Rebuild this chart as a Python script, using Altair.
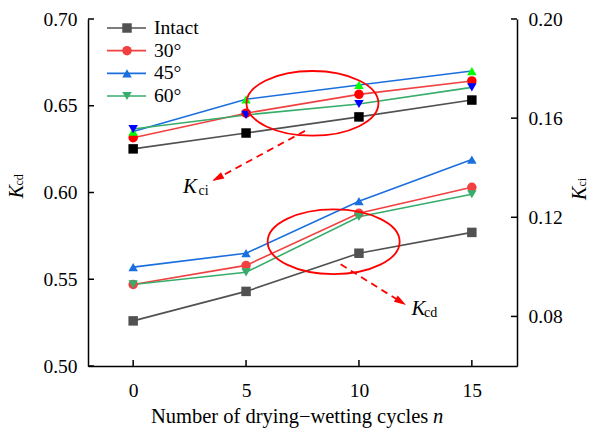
import altair as alt
import pandas as pd

# ---------------- data ----------------
cycles = [0, 5, 10, 15]
series = ["Intact", "30°", "45°", "60°"]

# K_cd (left axis)
kcd_intact = [0.526, 0.543, 0.565, 0.577]
kcd_30 = [0.547, 0.558, 0.588, 0.603]
kcd_45 = [0.557, 0.565, 0.595, 0.619]
kcd_60 = [0.547, 0.554, 0.586, 0.599]

# K_ci (right axis)
kci_intact = [0.1476, 0.1540, 0.1605, 0.1673]
kci_30 = [0.1521, 0.1620, 0.1696, 0.1750]
kci_45 = [0.1546, 0.1676, 0.1734, 0.1790]
kci_60 = [0.1556, 0.1613, 0.1657, 0.1724]

x_ticks = [0, 5, 10, 15]
kcd_ticks = [0.50, 0.55, 0.60, 0.65, 0.70]
kci_ticks = [0.08, 0.12, 0.16, 0.20]

x_title = "Number of drying\u2212wetting cycles"
x_title_var = "n"

# ---------------- style ----------------
line_colors = ["#515151", "#F14040", "#1A6FDF", "#37AD6B"]
kci_marker_colors = ["#000000", "#FF0000", "#00FF00", "#0000FF"]
shapes = ["square", "circle", "triangle-up", "triangle-down"]
RED = "#FF0000"
SERIF = "Liberation Serif, Times New Roman, serif"
W, H = 429, 347

ELLIPSE = "M -1 0 A 1 0.49 0 1 1 1 0 A 1 0.49 0 1 1 -1 0 Z"
ARROW = "M 0 -1 L 0.6 1 L -0.6 1 Z"


def long_frame(rows_by_series):
    recs = []
    for name, vals in zip(series, rows_by_series):
        for n, v in zip(cycles, vals):
            recs.append({"n": n, "value": v, "series": name})
    return pd.DataFrame(recs)


kcd_df = long_frame([kcd_intact, kcd_30, kcd_45, kcd_60])
kci_df = long_frame([kci_intact, kci_30, kci_45, kci_60])

x_scale = alt.Scale(domain=[-2, 17], nice=False, zero=False)
kcd_scale = alt.Scale(domain=[0.50, 0.70], nice=False, zero=False)
kci_scale = alt.Scale(domain=[0.06, 0.20], nice=False, zero=False)
color_scale = alt.Scale(domain=series, range=line_colors)
fill_scale = alt.Scale(domain=series, range=kci_marker_colors)
shape_scale = alt.Scale(domain=series, range=shapes)

x_axis = alt.Axis(values=x_ticks, format="d", title=None, orient="bottom",
                  labelPadding=15, ticks=False, grid=False, labelFlush=False)
kcd_axis = alt.Axis(values=kcd_ticks, format=".2f", title=None, orient="left",
                    labelPadding=11, ticks=False, grid=False)
kci_axis = alt.Axis(values=kci_ticks, format=".2f", title=None, orient="right",
                    labelPadding=11, ticks=False, grid=False)


def X(field="n"):
    return alt.X(f"{field}:Q", scale=x_scale, axis=x_axis)


def YD(field="value"):
    return alt.Y(f"{field}:Q", scale=kcd_scale, axis=kcd_axis)


def YI(field="value"):
    return alt.Y(f"{field}:Q", scale=kci_scale, axis=kci_axis)


col = alt.Color("series:N", scale=color_scale, legend=None)
shp = alt.Shape("series:N", scale=shape_scale, legend=None)

# ---------------- upper group (K_ci, right axis) ----------------
kci_lines = alt.Chart(kci_df).mark_line(strokeWidth=1.6).encode(x=X(), y=YI(), color=col)
kci_points = alt.Chart(kci_df).mark_point(filled=True, size=90, opacity=1).encode(
    x=X(), y=YI(), fill=alt.Fill("series:N", scale=fill_scale, legend=None), shape=shp)
kci_tick_marks = alt.Chart(pd.DataFrame({"t": kci_ticks})).mark_rule(
    color="black", strokeWidth=1.5).encode(y=YI("t"), x=alt.value(W - 6), x2=alt.value(W))
right_K = alt.Chart(pd.DataFrame({"label": ["K"]})).mark_text(
    font=SERIF, fontSize=20, fontStyle="italic", angle=270, align="left",
    baseline="alphabetic", color="black").encode(
    x=alt.value(497.5), y=alt.value(181), text="label:N")
right_sub = alt.Chart(pd.DataFrame({"label": ["ci"]})).mark_text(
    font=SERIF, fontSize=12, angle=270, align="left",
    baseline="alphabetic", color="black").encode(
    x=alt.value(498), y=alt.value(167.5), text="label:N")

upper = alt.layer(kci_lines, kci_points, kci_tick_marks, right_K, right_sub)

# ---------------- lower group (K_cd, left axis) + annotations ----------------
kcd_lines = alt.Chart(kcd_df).mark_line(strokeWidth=1.6).encode(x=X(), y=YD(), color=col)
kcd_points = alt.Chart(kcd_df).mark_point(filled=True, size=90, opacity=1).encode(
    x=X(), y=YD(), color=col, shape=shp)
kcd_tick_marks = alt.Chart(pd.DataFrame({"t": kcd_ticks})).mark_rule(
    color="black", strokeWidth=1.5).encode(y=YD("t"), x=alt.value(0), x2=alt.value(6))
x_tick_marks = alt.Chart(pd.DataFrame({"t": x_ticks})).mark_rule(
    color="black", strokeWidth=1.5).encode(x=X("t"), y=alt.value(H - 6), y2=alt.value(H))

ellipse_df = pd.DataFrame({"n": [7.94, 8.88], "value": [0.6514, 0.5716]})
ellipses = alt.Chart(ellipse_df).mark_point(
    shape=ELLIPSE, size=17424, filled=False, color=RED, strokeWidth=1.8, opacity=1
).encode(x=X(), y=YD())

arrow_df = pd.DataFrame({"n": [7.61, 9.19], "value": [0.6355, 0.5586],
                         "n2": [3.73, 11.86], "value2": [0.6082, 0.5370]})
arrows = alt.Chart(arrow_df).mark_rule(color=RED, strokeWidth=1.8, strokeDash=[7, 5]).encode(
    x=X(), y=YD(), x2="n2:Q", y2="value2:Q")
head_up = alt.Chart(pd.DataFrame({"n": [3.73], "value": [0.6082]})).mark_point(
    shape=ARROW, size=144, filled=True, color=RED, opacity=1, angle=241.7).encode(x=X(), y=YD())
head_down = alt.Chart(pd.DataFrame({"n": [11.86], "value": [0.5370]})).mark_point(
    shape=ARROW, size=144, filled=True, color=RED, opacity=1, angle=121.9).encode(x=X(), y=YD())

k_labels = alt.Chart(pd.DataFrame({"n": [2.207, 12.327], "value": [0.6000, 0.5294],
                                   "label": ["K", "K"]})).mark_text(
    font=SERIF, fontSize=21, fontStyle="italic", align="left", baseline="alphabetic",
    color="black").encode(x=X(), y=YD(), text="label:N")
k_subs = alt.Chart(pd.DataFrame({"n": [2.894, 12.881], "value": [0.5983, 0.5280],
                                 "label": ["ci", "cd"]})).mark_text(
    font=SERIF, fontSize=14, align="left", baseline="alphabetic",
    color="black").encode(x=X(), y=YD(), text="label:N")

left_K = alt.Chart(pd.DataFrame({"label": ["K"]})).mark_text(
    font=SERIF, fontSize=20, fontStyle="italic", angle=270, align="left",
    baseline="alphabetic", color="black").encode(
    x=alt.value(-65.3), y=alt.value(179.3), text="label:N")
left_sub = alt.Chart(pd.DataFrame({"label": ["cd"]})).mark_text(
    font=SERIF, fontSize=12, angle=270, align="left",
    baseline="alphabetic", color="black").encode(
    x=alt.value(-65), y=alt.value(166.5), text="label:N")

xt_main = alt.Chart(pd.DataFrame({"label": [x_title]})).mark_text(
    font=SERIF, fontSize=20.5, align="right", baseline="alphabetic", color="black").encode(
    x=alt.value(340.3), y=alt.value(404), text="label:N")
xt_var = alt.Chart(pd.DataFrame({"label": [x_title_var]})).mark_text(
    font=SERIF, fontSize=20.5, fontStyle="italic", align="left", baseline="alphabetic",
    color="black").encode(x=alt.value(345), y=alt.value(404), text="label:N")

lower = alt.layer(kcd_lines, kcd_points, kcd_tick_marks, x_tick_marks, ellipses, arrows,
                  head_up, head_down, k_labels, k_subs, left_K, left_sub, xt_main, xt_var)

# ---------------- legend (drawn) ----------------
legend_df = pd.DataFrame({"series": series})
leg_y = alt.Y("series:N", scale=alt.Scale(type="point", domain=series, range=[9, 77], padding=0),
              axis=None)
leg_lines = alt.Chart(legend_df).mark_rule(strokeWidth=1.6).encode(
    y=leg_y, x=alt.value(19), x2=alt.value(58), color=col)
leg_points = alt.Chart(legend_df).mark_point(filled=True, size=90, opacity=1).encode(
    y=leg_y, x=alt.value(39), color=col, shape=shp)
leg_text = alt.Chart(legend_df).mark_text(
    font=SERIF, fontSize=19.6, align="left", baseline="middle", color="black").encode(
    y=leg_y, x=alt.value(66), text="series:N")
legend = alt.layer(leg_lines, leg_points, leg_text)

chart = alt.layer(upper, lower, legend).resolve_scale(y="independent").properties(
    width=W, height=H,
    padding={"left": 80, "top": 11, "right": 70, "bottom": 63},
    autosize=alt.AutoSizeParams(type="none"),
).configure_view(stroke=None).configure_axis(
    domainColor="black", domainWidth=1.5, labelFont=SERIF, labelFontSize=19.5,
    labelColor="black",
)

chart.save("out.html", embed_options={"renderer": "svg", "actions": False})
